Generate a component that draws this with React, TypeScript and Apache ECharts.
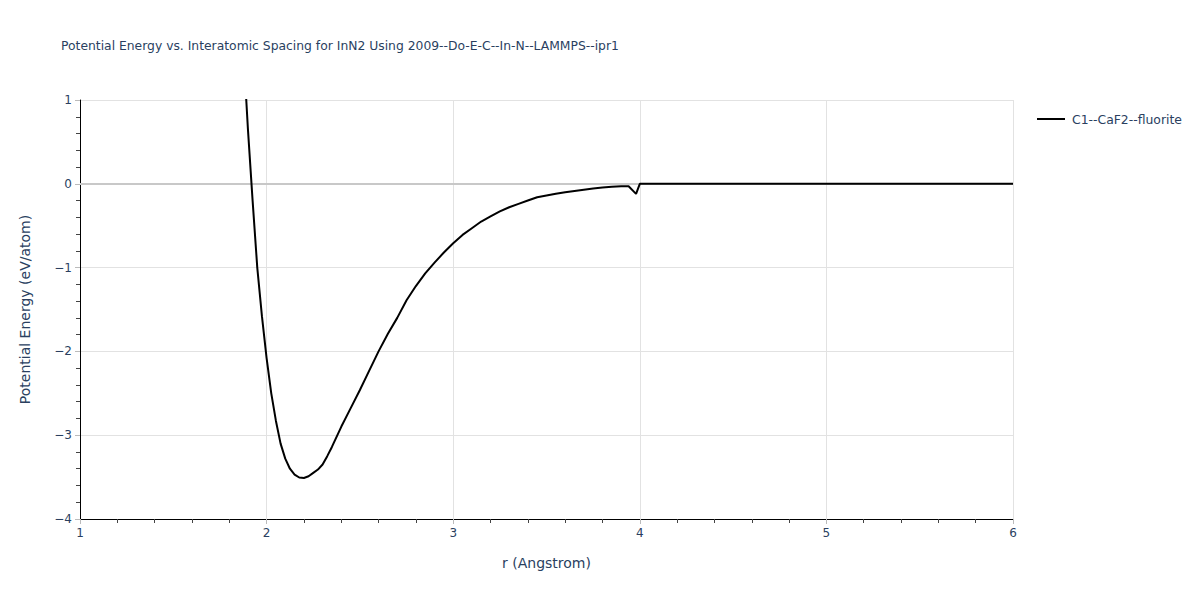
import React, { useEffect, useRef } from "react";
import * as echarts from "echarts";

const TITLE = "Potential Energy vs. Interatomic Spacing for InN2 Using 2009--Do-E-C--In-N--LAMMPS--ipr1";
const SERIES_NAME = "C1--CaF2--fluorite";
const X_NAME = "r (Angstrom)";
const Y_NAME = "Potential Energy (eV/atom)";

const rValues = [
  1.85, 1.9, 1.925, 1.95, 1.975, 2.0, 2.025, 2.05, 2.075, 2.1, 2.125, 2.15,
  2.175, 2.2, 2.225, 2.25, 2.275, 2.3, 2.325, 2.35, 2.4, 2.45, 2.5, 2.55, 2.6,
  2.65, 2.7, 2.75, 2.8, 2.85, 2.9, 2.95, 3.0, 3.05, 3.1, 3.15, 3.2, 3.25, 3.3,
  3.35, 3.4, 3.45, 3.5, 3.55, 3.6, 3.65, 3.7, 3.75, 3.8, 3.85, 3.9, 3.94, 3.98,
  4.0, 4.5, 5.0, 5.5, 6.0,
];
const energyValues = [
  2.6, 0.65, -0.2, -1.0, -1.58, -2.08, -2.5, -2.83, -3.1, -3.28, -3.4, -3.47,
  -3.505, -3.51, -3.49, -3.45, -3.41, -3.35, -3.25, -3.14, -2.9, -2.68, -2.46,
  -2.23, -2.0, -1.79, -1.6, -1.39, -1.22, -1.07, -0.94, -0.82, -0.71, -0.61,
  -0.53, -0.45, -0.39, -0.33, -0.28, -0.24, -0.2, -0.16, -0.14, -0.12, -0.1,
  -0.085, -0.07, -0.055, -0.045, -0.035, -0.03, -0.03, -0.12, 0, 0, 0, 0, 0,
];

const FONT = "'DejaVu Sans', Verdana, sans-serif";
const TEXT_COLOR = "#2a3f5f";
const fmt = (v: number) => String(v).replace("-", "\u2212");

export default function App() {
  const ref = useRef<HTMLDivElement>(null);
  useEffect(() => {
    if (!ref.current) return;
    const chart = echarts.init(ref.current, undefined, { renderer: "svg" });
    const data = rValues.map((r, i) => [r, energyValues[i]]);
    chart.setOption({
      animation: false,
      backgroundColor: "#ffffff",
      title: {
        text: TITLE,
        left: 56,
        top: 35,
        textStyle: { fontFamily: FONT, fontSize: 12.35, fontWeight: "normal", color: TEXT_COLOR },
      },
      legend: {
        left: 1032,
        top: 108,
        icon: "rect",
        itemWidth: 28,
        itemHeight: 2,
        itemGap: 10,
        textStyle: { fontFamily: FONT, fontSize: 12.4, color: TEXT_COLOR, padding: [0, 0, 0, 2] },
        data: [SERIES_NAME],
      },
      grid: { left: 80, right: 187, top: 100, bottom: 81, containLabel: false },
      xAxis: {
        type: "value",
        min: 1,
        max: 6,
        interval: 1,
        name: X_NAME,
        nameLocation: "middle",
        nameGap: 37,
        nameTextStyle: { fontFamily: FONT, fontSize: 14, color: TEXT_COLOR },
        axisLine: { show: true, onZero: false, lineStyle: { color: "#000", width: 1 } },
        axisTick: { show: true, length: 5, lineStyle: { color: "#bbb" } },
        minorTick: { show: true, splitNumber: 5, length: 4, lineStyle: { color: "#444" } },
        axisLabel: { fontFamily: FONT, fontSize: 12, color: TEXT_COLOR, margin: 8, formatter: fmt },
        splitLine: { show: true, lineStyle: { color: "#e2e2e2", width: 1 } },
      },
      yAxis: {
        type: "value",
        min: -4,
        max: 1,
        interval: 1,
        name: Y_NAME,
        nameLocation: "middle",
        nameGap: 48,
        nameTextStyle: { fontFamily: FONT, fontSize: 14, color: TEXT_COLOR },
        axisLine: { show: true, onZero: false, lineStyle: { color: "#000", width: 1 } },
        axisTick: { show: true, length: 5, lineStyle: { color: "#bbb" } },
        minorTick: { show: true, splitNumber: 5, length: 4, lineStyle: { color: "#444" } },
        axisLabel: { fontFamily: FONT, fontSize: 12, color: TEXT_COLOR, margin: 8, formatter: fmt },
        splitLine: { show: true, lineStyle: { color: "#e2e2e2", width: 1 } },
      },
      series: [
        {
          name: SERIES_NAME,
          type: "line",
          data,
          showSymbol: false,
          clip: true,
          lineStyle: { color: "#000", width: 2 },
          itemStyle: { color: "#000" },
          markLine: {
            silent: true,
            symbol: "none",
            label: { show: false },
            lineStyle: { color: "#c8c8c8", width: 2, type: "solid" },
            data: [{ yAxis: 0 }],
            z: 1,
          },
          z: 3,
        },
      ],
    });
    return () => chart.dispose();
  }, []);
  return <div ref={ref} style={{ width: 1200, height: 600, position: "absolute", left: 0, top: 0 }} />;
}
